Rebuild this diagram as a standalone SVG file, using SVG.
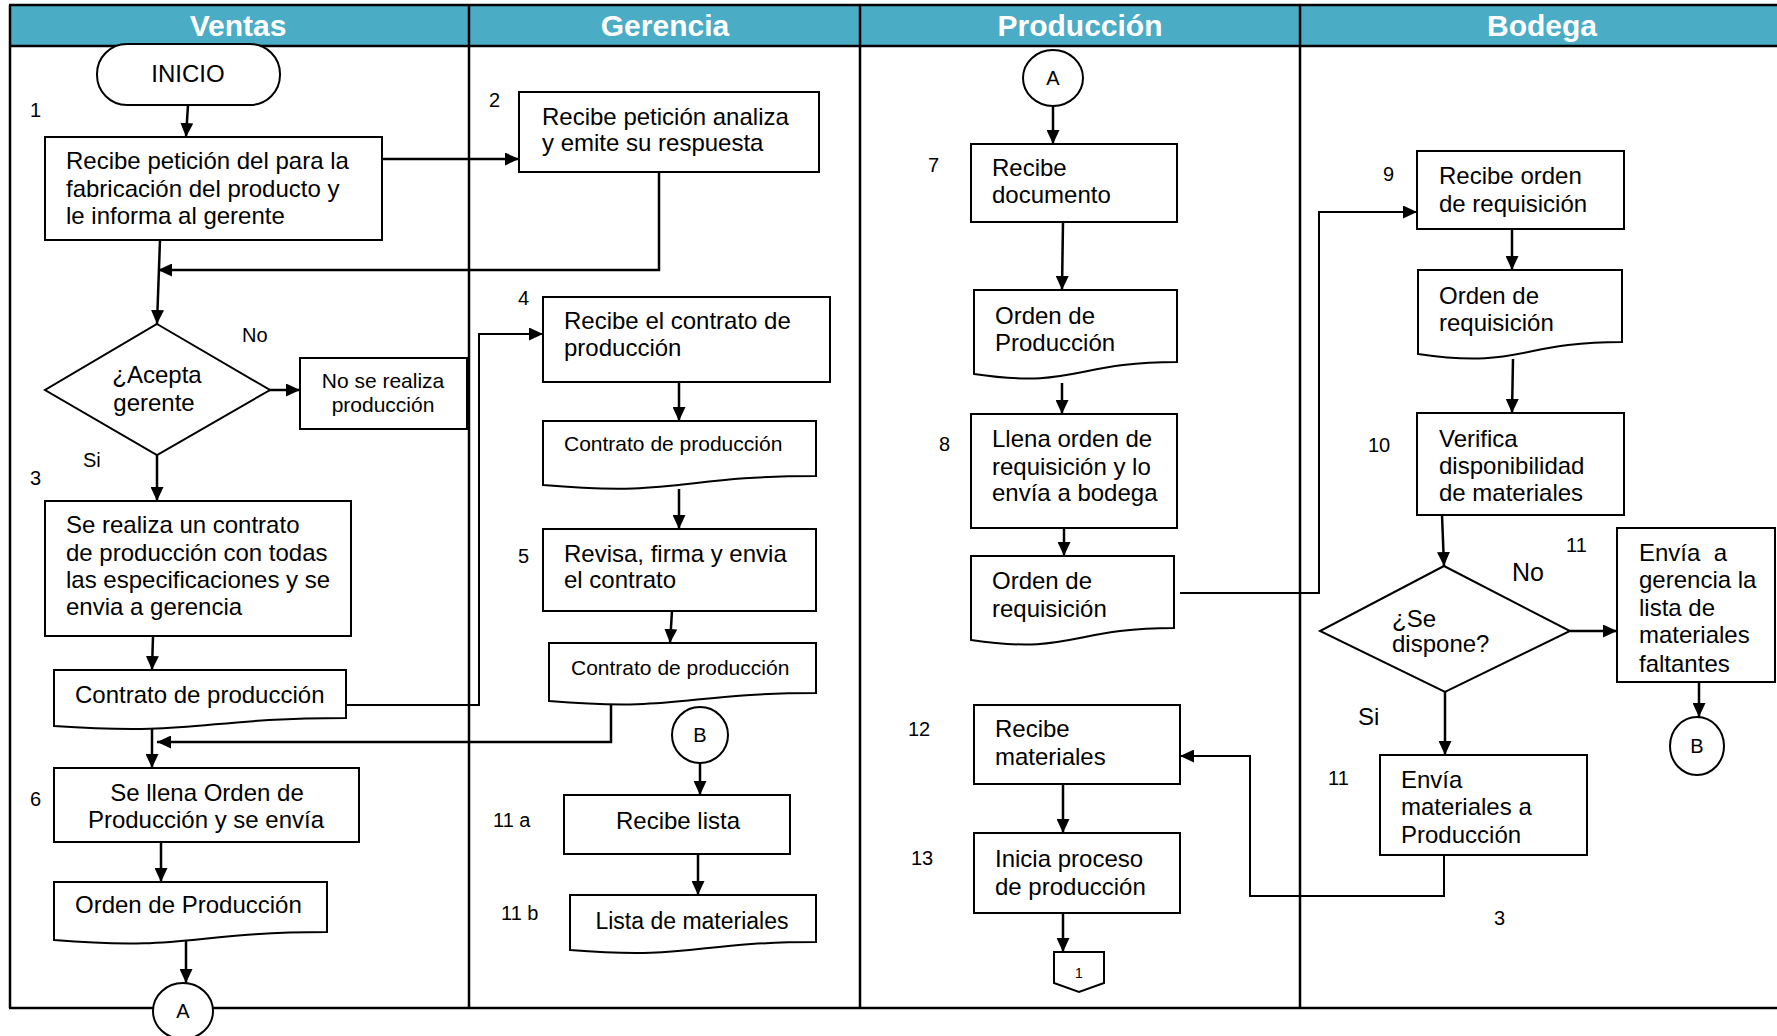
<svg xmlns="http://www.w3.org/2000/svg" width="1777" height="1036" viewBox="0 0 1777 1036">
<style>
text{font-family:"Liberation Sans",Arial,sans-serif;fill:#000}
.hd{font-size:30px;font-weight:bold;fill:#fff;text-anchor:middle}
.t{font-size:24px}
.s{font-size:21px}
.n{font-size:20px}
.c{text-anchor:middle}
.box{fill:#fff;stroke:#000;stroke-width:2}
.ln{fill:none;stroke:#000;stroke-width:2.5}
.cn{fill:none;stroke:#000;stroke-width:2.5}
.thin{fill:none;stroke:#000;stroke-width:2}
</style>
<defs>
<marker id="ah" viewBox="0 0 14 13" refX="14" refY="6.5" markerWidth="14" markerHeight="13" markerUnits="userSpaceOnUse" orient="auto"><path d="M0,0 L14,6.5 L0,13 z" fill="#000"/></marker>
</defs>
<rect x="0" y="0" width="1777" height="1036" fill="#fff"/>
<g id="lanes">
<rect x="9" y="5" width="1768" height="41" fill="#4BACC6"/>
<line class="ln" x1="9" y1="5" x2="1777" y2="5"/>
<line class="ln" x1="9" y1="46" x2="1777" y2="46"/>
<line class="ln" x1="10" y1="5" x2="10" y2="1008"/>
<line class="ln" x1="469" y1="5" x2="469" y2="1008"/>
<line class="ln" x1="860" y1="5" x2="860" y2="1008"/>
<line class="ln" x1="1300" y1="5" x2="1300" y2="1008"/>
<line class="ln" x1="9" y1="1008" x2="1777" y2="1008"/>
<text class="hd" x="238" y="36">Ventas</text>
<text class="hd" x="665" y="36">Gerencia</text>
<text class="hd" x="1080" y="36">Producción</text>
<text class="hd" x="1542" y="36">Bodega</text>
</g>
<g id="labels">
<text class="n" x="30" y="117">1</text>
<text class="n" x="489" y="107">2</text>
<text class="n" x="30" y="485">3</text>
<text class="n" x="518" y="305">4</text>
<text class="n" x="518" y="563">5</text>
<text class="n" x="30" y="806">6</text>
<text class="n" x="493" y="827">11 a</text>
<text class="n" x="501" y="920">11 b</text>
<text class="n" x="928" y="172">7</text>
<text class="n" x="939" y="451">8</text>
<text class="n" x="908" y="736">12</text>
<text class="n" x="911" y="865">13</text>
<text class="n" x="1383" y="181">9</text>
<text class="n" x="1368" y="452">10</text>
<text class="n" x="1566" y="552">11</text>
<text class="n" x="1328" y="785">11</text>
<text class="n" x="1494" y="925">3</text>
<text class="n" x="242" y="342">No</text>
<text class="n" x="83" y="467">Si</text>
<text x="1512" y="581" style="font-size:25px">No</text>
<text x="1358" y="725" style="font-size:24px">Si</text>
</g>
<g id="connectors">
<path class="cn" d="M188,105 L186,137" marker-end="url(#ah)"/>
<path class="cn" d="M382,159 H519" marker-end="url(#ah)"/>
<path class="cn" d="M659,172 V270 H158" marker-end="url(#ah)"/>
<path class="cn" d="M160,240 L157,324" marker-end="url(#ah)"/>
<path class="cn" d="M260,390 H300" marker-end="url(#ah)"/>
<path class="cn" d="M157,455 V501" marker-end="url(#ah)"/>
<path class="cn" d="M153,636 L152,670" marker-end="url(#ah)"/>
<path class="thin" d="M346,705 H479 V334 H543" marker-end="url(#ah)"/>
<path class="cn" d="M152,726 V768" marker-end="url(#ah)"/>
<path class="cn" d="M611,702 V742 H157" marker-end="url(#ah)"/>
<path class="cn" d="M161,842 V882" marker-end="url(#ah)"/>
<path class="cn" d="M186,940 V983" marker-end="url(#ah)"/>
<path class="cn" d="M679,382 V421" marker-end="url(#ah)"/>
<path class="cn" d="M679,489 V529" marker-end="url(#ah)"/>
<path class="cn" d="M672,611 L670,643" marker-end="url(#ah)"/>
<path class="cn" d="M700,763 V795" marker-end="url(#ah)"/>
<path class="cn" d="M698,854 V895" marker-end="url(#ah)"/>
<path class="cn" d="M1053,106 V144" marker-end="url(#ah)"/>
<path class="cn" d="M1063,222 L1062,290" marker-end="url(#ah)"/>
<path class="cn" d="M1062,383 V414" marker-end="url(#ah)"/>
<path class="cn" d="M1064,528 V556" marker-end="url(#ah)"/>
<path class="thin" d="M1180,593 H1319 V212 H1417" marker-end="url(#ah)"/>
<path class="cn" d="M1512,229 V270" marker-end="url(#ah)"/>
<path class="cn" d="M1513,359 L1512,413" marker-end="url(#ah)"/>
<path class="cn" d="M1442,515 L1444,566" marker-end="url(#ah)"/>
<path class="cn" d="M1570,631 H1617" marker-end="url(#ah)"/>
<path class="cn" d="M1699,682 V717" marker-end="url(#ah)"/>
<path class="cn" d="M1445,692 V755" marker-end="url(#ah)"/>
<path class="thin" d="M1444,855 V896 H1250 V756 H1180" marker-end="url(#ah)"/>
<path class="cn" d="M1063,784 V833" marker-end="url(#ah)"/>
<path class="cn" d="M1063,913 V952" marker-end="url(#ah)"/>
</g>
<g id="inicio">
<rect class="box" x="97" y="44" width="183" height="61" rx="30"/>
<text class="t c" x="188" y="82">INICIO</text>
</g>
<g id="v1">
<rect class="box" x="45" y="137" width="337" height="103"/>
<text class="t" x="66" y="169">Recibe petición del para la</text>
<text class="t" x="66" y="197">fabricación del producto y</text>
<text class="t" x="66" y="224">le informa al gerente</text>
</g>
<g id="v-decision">
<polygon class="box" points="157,324 270,390 157,455 45,390"/>
<text class="t c" x="157" y="383">¿Acepta</text>
<text class="t c" x="154" y="411">gerente</text>
</g>
<g id="v-no">
<rect class="box" x="300" y="358" width="167" height="71"/>
<text class="s c" x="383" y="388">No se realiza</text>
<text class="s c" x="383" y="412">producción</text>
</g>
<g id="v3">
<rect class="box" x="45" y="501" width="306" height="135"/>
<text class="t" x="66" y="533">Se realiza un contrato</text>
<text class="t" x="66" y="561">de producción con todas</text>
<text class="t" x="66" y="588">las especificaciones y se</text>
<text class="t" x="66" y="615">envia a gerencia</text>
</g>
<g id="v-doc1">
<path class="box" d="M54,670 H346 V718 C200,718 200,736 54,726 Z"/>
<text class="t" x="75" y="703">Contrato de producción</text>
</g>
<g id="v6">
<rect class="box" x="54" y="768" width="305" height="74"/>
<text class="t c" x="207" y="801">Se llena Orden de</text>
<text class="t c" x="206" y="828">Producción y se envía</text>
</g>
<g id="v-doc2">
<path class="box" d="M54,882 H327 V932 C190,932 190,951 54,940 Z"/>
<text class="t" x="75" y="913">Orden de Producción</text>
</g>
<g id="v-A">
<ellipse class="box" cx="183" cy="1011" rx="30" ry="28"/>
<text class="n c" x="183" y="1018">A</text>
</g>
<g id="g2">
<rect class="box" x="519" y="92" width="300" height="80"/>
<text class="t" x="542" y="125">Recibe petición analiza</text>
<text class="t" x="542" y="151">y emite su respuesta</text>
</g>
<g id="g4">
<rect class="box" x="543" y="297" width="287" height="85"/>
<text class="t" x="564" y="329">Recibe el contrato de</text>
<text class="t" x="564" y="356">producción</text>
</g>
<g id="g-doc1">
<path class="box" d="M543,421 H816 V476 C680,476 680,497 543,485 Z"/>
<text class="s" x="564" y="451">Contrato de producción</text>
</g>
<g id="g5">
<rect class="box" x="543" y="529" width="273" height="82"/>
<text class="t" x="564" y="562">Revisa, firma y envia</text>
<text class="t" x="564" y="588">el contrato</text>
</g>
<g id="g-doc2">
<path class="box" d="M549,643 H816 V693 C683,693 683,712 549,701 Z"/>
<text class="s" x="571" y="675">Contrato de producción</text>
</g>
<g id="g-B">
<circle class="box" cx="700" cy="735" r="28"/>
<text class="n c" x="700" y="742">B</text>
</g>
<g id="g11a">
<rect class="box" x="564" y="795" width="226" height="59"/>
<text class="t c" x="678" y="829">Recibe lista</text>
</g>
<g id="g11b">
<path class="box" d="M570,895 H816 V942 C693,942 693,960 570,950 Z"/>
<text class="t c" x="692" y="929" style="font-size:23px">Lista de materiales</text>
</g>
<g id="p-A">
<ellipse class="box" cx="1053" cy="78" rx="30" ry="28"/>
<text class="n c" x="1053" y="85">A</text>
</g>
<g id="p7">
<rect class="box" x="971" y="144" width="206" height="78"/>
<text class="t" x="992" y="176">Recibe</text>
<text class="t" x="992" y="203">documento</text>
</g>
<g id="p-doc1">
<path class="box" d="M974,290 H1177 V362 C1075,362 1075,389 974,374 Z"/>
<text class="t" x="995" y="324">Orden de</text>
<text class="t" x="995" y="351">Producción</text>
</g>
<g id="p8">
<rect class="box" x="971" y="414" width="206" height="114"/>
<text class="t" x="992" y="447">Llena orden de</text>
<text class="t" x="992" y="475">requisición y lo</text>
<text class="t" x="992" y="501">envía a bodega</text>
</g>
<g id="p-doc2">
<path class="box" d="M971,556 H1174 V628 C1072,628 1072,655 971,640 Z"/>
<text class="t" x="992" y="589">Orden de</text>
<text class="t" x="992" y="617">requisición</text>
</g>
<g id="p12">
<rect class="box" x="974" y="705" width="206" height="79"/>
<text class="t" x="995" y="737">Recibe</text>
<text class="t" x="995" y="765">materiales</text>
</g>
<g id="p13">
<rect class="box" x="974" y="833" width="206" height="80"/>
<text class="t" x="995" y="867">Inicia proceso</text>
<text class="t" x="995" y="895">de producción</text>
</g>
<g id="p-offpage">
<polygon class="box" points="1054,952 1104,952 1104,983 1079,992 1054,983"/>
<text class="c" x="1079" y="978" style="font-size:14px">1</text>
</g>
<g id="b9">
<rect class="box" x="1417" y="151" width="207" height="78"/>
<text class="t" x="1439" y="184">Recibe orden</text>
<text class="t" x="1439" y="212">de requisición</text>
</g>
<g id="b-doc">
<path class="box" d="M1418,270 H1622 V342 C1520,342 1520,369 1418,354 Z"/>
<text class="t" x="1439" y="304">Orden de</text>
<text class="t" x="1439" y="331">requisición</text>
</g>
<g id="b10">
<rect class="box" x="1417" y="413" width="207" height="102"/>
<text class="t" x="1439" y="447">Verifica</text>
<text class="t" x="1439" y="474">disponibilidad</text>
<text class="t" x="1439" y="501">de materiales</text>
</g>
<g id="b-decision">
<polygon class="box" points="1444,566 1570,631 1445,692 1320,631"/>
<text class="t" x="1392" y="627">¿Se</text>
<text class="t" x="1392" y="652">dispone?</text>
</g>
<g id="b11-no">
<rect class="box" x="1617" y="528" width="158" height="154"/>
<text class="t" x="1639" y="561" xml:space="preserve">Envía  a</text>
<text class="t" x="1639" y="588">gerencia la</text>
<text class="t" x="1639" y="616">lista de</text>
<text class="t" x="1639" y="643">materiales</text>
<text class="t" x="1639" y="672">faltantes</text>
</g>
<g id="b-B">
<ellipse class="box" cx="1697" cy="746" rx="27" ry="29"/>
<text class="n c" x="1697" y="753">B</text>
</g>
<g id="b11-si">
<rect class="box" x="1380" y="755" width="207" height="100"/>
<text class="t" x="1401" y="788">Envía</text>
<text class="t" x="1401" y="815">materiales a</text>
<text class="t" x="1401" y="843">Producción</text>
</g>
</svg>
